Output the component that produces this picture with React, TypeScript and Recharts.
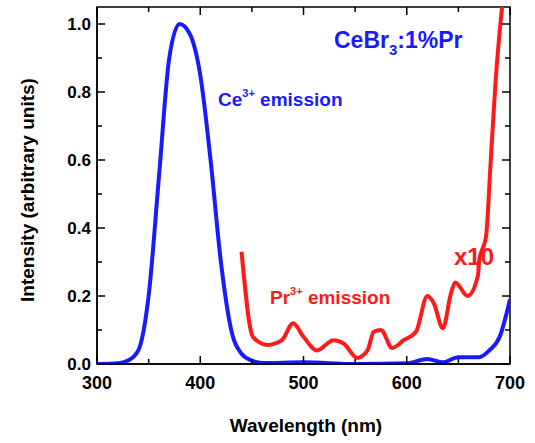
import React from 'react';
import { LineChart, Line, XAxis, YAxis, ReferenceArea } from 'recharts';

const ceWavelength = [300, 320, 330, 340, 350, 360, 370, 380, 390, 400, 410, 420, 430, 440, 450, 460, 500, 550, 600, 620, 635, 650, 670, 680, 690, 700];
const ceIntensity = [0, 0.002, 0.01, 0.04, 0.2, 0.55, 0.9, 1.0, 0.97, 0.85, 0.6, 0.3, 0.1, 0.03, 0.01, 0.003, 0.005, 0, 0.002, 0.015, 0.005, 0.02, 0.02, 0.04, 0.08, 0.19];

const prWavelength = [440, 451, 465, 479, 490, 500, 513, 529, 539, 552, 562, 568, 575, 586, 597, 609, 620, 626, 635, 643, 647, 659, 669, 670, 677, 681, 686, 693];
const prIntensity = [0.33, 0.08, 0.056, 0.07, 0.12, 0.08, 0.04, 0.07, 0.06, 0.018, 0.04, 0.095, 0.1, 0.047, 0.07, 0.095, 0.2, 0.18, 0.105, 0.21, 0.24, 0.2, 0.26, 0.3, 0.38, 0.58, 0.83, 1.07];

const xTicks = [300, 350, 400, 450, 500, 550, 600, 650, 700];
const yTicks = [0, 0.1, 0.2, 0.3, 0.4, 0.5, 0.6, 0.7, 0.8, 0.9, 1.0];

const ceData = ceWavelength.map((w, i) => ({ w, v: ceIntensity[i] }));
const prData = prWavelength.map((w, i) => ({ w, v: prIntensity[i] }));

const TOP = 7;
const BOTTOM = 364;
const LEFT = 97;
const RIGHT = 510;
const FONT = 'Arial, "Liberation Sans", sans-serif';

const XTick = (props: any) => {
  const { x, payload } = props;
  const major = payload.value % 100 === 0;
  const len = major ? 8 : 5;
  return (
    <g>
      <line x1={x} x2={x} y1={BOTTOM} y2={BOTTOM - len} stroke="#000" strokeWidth={1.5} />
      <line x1={x} x2={x} y1={TOP} y2={TOP + len} stroke="#000" strokeWidth={1.5} />
      {major && (
        <text x={x} y={BOTTOM + 25} textAnchor="middle" fontSize={18} fontWeight="bold" fontFamily={FONT}>
          {payload.value}
        </text>
      )}
    </g>
  );
};

const YTick = (props: any) => {
  const { y, payload } = props;
  const major = Math.round(payload.value * 10) % 2 === 0;
  const len = major ? 8 : 5;
  return (
    <g>
      <line x1={LEFT} x2={LEFT + len} y1={y} y2={y} stroke="#000" strokeWidth={1.5} />
      <line x1={RIGHT} x2={RIGHT - len} y1={y} y2={y} stroke="#000" strokeWidth={1.5} />
      {major && (
        <text x={LEFT - 6} y={y + 6} textAnchor="end" fontSize={17} fontWeight="bold" fontFamily={FONT}>
          {payload.value.toFixed(1)}
        </text>
      )}
    </g>
  );
};

export default function App() {
  return (
    <div style={{ position: 'absolute', left: 0, top: 0, width: 535, height: 443, background: '#fff' }}>
      <LineChart width={535} height={443} margin={{ top: TOP, right: 535 - RIGHT, bottom: 0, left: 0 }}>
        <XAxis type="number" dataKey="w" domain={[300, 700]} ticks={xTicks} tick={<XTick />} tickLine={false} axisLine={{ stroke: '#000', strokeWidth: 1.5 }} height={443 - BOTTOM} allowDataOverflow />
        <YAxis type="number" domain={[0, 1.05]} ticks={yTicks} tick={<YTick />} tickLine={false} axisLine={{ stroke: '#000', strokeWidth: 1.5 }} width={LEFT} allowDataOverflow />
        <ReferenceArea x1={300} x2={700} y1={0} y2={1.05} fill="none" stroke="#000" strokeWidth={1.5} />
        <Line data={ceData} dataKey="v" type="monotone" stroke="#1a1aff" strokeWidth={4} dot={false} isAnimationActive={false} />
        <Line data={prData} dataKey="v" type="monotone" stroke="#ff1a1a" strokeWidth={4} dot={false} isAnimationActive={false} />
        <text x={334} y={48} fill="#1a1aff" fontSize={23} fontWeight="bold" fontFamily={FONT}>
          CeBr<tspan fontSize={15} dy={7}>3</tspan><tspan dy={-7}>:1%Pr</tspan>
        </text>
        <text x={218} y={106} fill="#1a1aff" fontSize={19} fontWeight="bold" fontFamily={FONT}>
          Ce<tspan fontSize={11} dy={-9}>3+</tspan><tspan dy={9}> emission</tspan>
        </text>
        <text x={270} y={304} fill="#ff1a1a" fontSize={19} fontWeight="bold" fontFamily={FONT}>
          Pr<tspan fontSize={11} dy={-9}>3+</tspan><tspan dy={9}> emission</tspan>
        </text>
        <text x={454} y={265} fill="#ff1a1a" fontSize={24} fontWeight="bold" fontFamily={FONT}>x10</text>
        <text x={306} y={432} textAnchor="middle" fontSize={19} fontWeight="bold" fontFamily={FONT}>Wavelength (nm)</text>
        <text x={34} y={190} textAnchor="middle" fontSize={19} fontWeight="bold" fontFamily={FONT} transform="rotate(-90 34 190)">Intensity (arbitrary units)</text>
      </LineChart>
    </div>
  );
}
